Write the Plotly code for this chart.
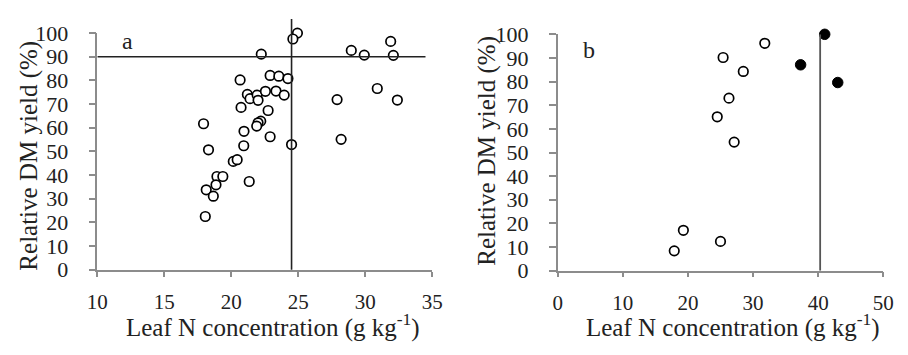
import plotly.graph_objects as go

# ---- Panel a data ----
a_x = [24.94, 24.6, 22.24, 28.96, 29.93, 31.9, 32.1, 30.9, 27.9, 32.4, 28.2,
       20.66, 22.9, 23.55, 24.23, 21.2, 21.4, 21.93, 22.0, 22.55, 23.34, 23.95,
       20.73, 22.75, 17.93, 22.2, 22.0, 21.9, 20.95, 22.9, 20.93, 18.3, 24.5,
       20.15, 20.44, 18.93, 19.37, 18.13, 18.86, 18.66, 21.34, 18.06]
a_y = [100.0, 97.5, 91.1, 92.7, 90.7, 96.5, 90.6, 76.6, 71.9, 71.7, 55.1,
       80.2, 82.1, 81.8, 80.8, 74.1, 72.3, 73.8, 71.6, 75.4, 75.5, 73.8,
       68.6, 67.3, 61.7, 62.8, 62.1, 60.7, 58.5, 56.2, 52.4, 50.7, 52.9,
       45.8, 46.5, 39.4, 39.4, 33.8, 35.9, 31.1, 37.3, 22.5]
a_crit_x = 24.5      # critical leaf N (vertical line)
a_crit_y = 90        # 90 % relative yield (horizontal line)
a_hline_end = 34.5
a_vline_top = 106

# ---- Panel b data ----
b_open_x = [25.4, 26.3, 24.5, 27.1, 19.3, 17.9, 25.0, 31.8, 28.5]
b_open_y = [90.2, 73.0, 65.1, 54.4, 17.1, 8.4, 12.4, 96.2, 84.3]
b_fill_x = [41.0, 37.3, 43.0]
b_fill_y = [100.0, 87.1, 79.6]
b_crit_x = 40.3

a_xticks = [10, 15, 20, 25, 30, 35]
b_xticks = [0, 10, 20, 30, 40, 50]
yticks = list(range(0, 101, 10))

x_title = "Leaf N concentration (g kg<sup>-1</sup>)"
y_title = "Relative DM yield (%)"

FONT = "Liberation Serif"
AXC = "#8c8c8c"
W, H = 908, 355

# pixel geometry of plot areas
ax_l, ax_r, ax_t, ax_b = 89.3, 431.7, 22.7, 277.3
bx_l, bx_r, bx_t, bx_b = 560.0, 893.0, 24.0, 278.3

fig = go.Figure()

open_marker = dict(symbol="circle", size=9.5, color="white",
                   line=dict(color="black", width=1.7))
fill_marker = dict(symbol="circle", size=10.5, color="black",
                   line=dict(color="black", width=1))

fig.add_trace(go.Scatter(x=a_x, y=a_y, mode="markers", marker=open_marker,
                         xaxis="x", yaxis="y", cliponaxis=False, showlegend=False))
fig.add_trace(go.Scatter(x=b_open_x, y=b_open_y, mode="markers", marker=open_marker,
                         xaxis="x2", yaxis="y2", cliponaxis=False, showlegend=False))
fig.add_trace(go.Scatter(x=b_fill_x, y=b_fill_y, mode="markers", marker=fill_marker,
                         xaxis="x2", yaxis="y2", cliponaxis=False, showlegend=False))

def xaxis(dom, rng, ticks):
    return dict(domain=dom, range=rng, tickvals=ticks, ticks="outside",
                ticklen=5, tickwidth=1.5, tickcolor=AXC, showline=True,
                linecolor=AXC, linewidth=1.5, showgrid=False, zeroline=False,
                ticklabelstandoff=7,
                tickfont=dict(family=FONT, size=21, color="#222"), fixedrange=True)

def yaxis(dom, anchor):
    return dict(domain=dom, range=[0, 100], tickvals=yticks, ticks="outside",
                ticklen=7, tickwidth=1.5, tickcolor=AXC, showline=True,
                linecolor=AXC, linewidth=1.5, showgrid=False, zeroline=False,
                anchor=anchor, ticklabelstandoff=16,
                tickfont=dict(family=FONT, size=22, color="#222"), fixedrange=True)

fig.update_layout(
    width=W, height=H, margin=dict(l=0, r=0, t=0, b=0),
    paper_bgcolor="white", plot_bgcolor="white",
    font=dict(family=FONT, color="#222"),
    xaxis=xaxis([ax_l / W, ax_r / W], [10, 35], a_xticks) | dict(anchor="y"),
    yaxis=yaxis([1 - ax_b / H, 1 - ax_t / H], "x"),
    xaxis2=xaxis([bx_l / W, bx_r / W], [0, 50], b_xticks) | dict(anchor="y2"),
    yaxis2=yaxis([1 - bx_b / H, 1 - bx_t / H], "x2"),
)

# reference lines
a_top_paper = (1 - ax_b / H) + (a_vline_top / 100) * ((ax_b - ax_t) / H)
fig.add_shape(type="line", xref="x", yref="paper", x0=a_crit_x, x1=a_crit_x,
              y0=1 - ax_b / H, y1=a_top_paper, line=dict(color="#222", width=1.6))
fig.add_shape(type="line", xref="x", yref="y", x0=10, x1=a_hline_end,
              y0=a_crit_y, y1=a_crit_y, line=dict(color="#222", width=1.6))
fig.add_shape(type="line", xref="x2", yref="y2", x0=b_crit_x, x1=b_crit_x,
              y0=0, y1=100, line=dict(color="#555", width=1.8))

# panel letters
fig.add_annotation(x=12.24, y=96.5, xref="x", yref="y", text="a", showarrow=False,
                   font=dict(family=FONT, size=24, color="#222"))
fig.add_annotation(x=4.8, y=93.4, xref="x2", yref="y2", text="b", showarrow=False,
                   font=dict(family=FONT, size=24, color="#222"))

# axis titles as annotations
tf = dict(family=FONT, size=25, color="#222")
fig.add_annotation(x=269 / W, y=1 - 337 / H, xref="paper", yref="paper", text=x_title,
                   showarrow=False, font=tf, xanchor="center", yanchor="middle")
fig.add_annotation(x=739 / W, y=1 - 337 / H, xref="paper", yref="paper", text=x_title,
                   showarrow=False, font=tf, xanchor="center", yanchor="middle")
fig.add_annotation(x=20 / W, y=1 - 155 / H, xref="paper", yref="paper", text=y_title,
                   showarrow=False, font=tf, textangle=-90, xanchor="center", yanchor="middle")
fig.add_annotation(x=487 / W, y=1 - 149 / H, xref="paper", yref="paper", text=y_title,
                   showarrow=False, font=tf, textangle=-90, xanchor="center", yanchor="middle")

fig.write_html("out.html")
